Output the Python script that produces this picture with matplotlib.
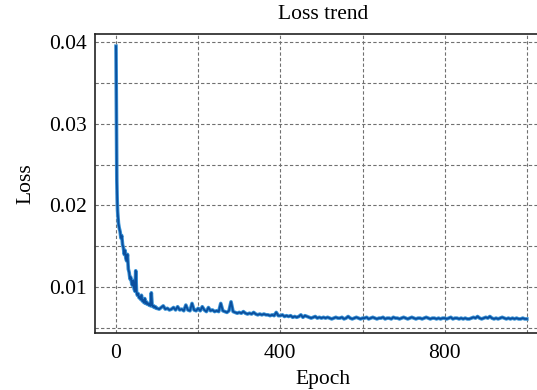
import numpy as np
import matplotlib
matplotlib.use("Agg")
import matplotlib.pyplot as plt
from matplotlib.ticker import MultipleLocator, FuncFormatter

epochs_early = [0, 1, 2, 3, 4, 5, 6, 8, 10, 12, 14, 16, 18, 20, 22, 24, 26, 28,
                30, 32, 34, 36, 38, 40, 42, 44, 46, 48, 50, 52, 54, 56, 58, 60,
                62, 64, 66, 68, 70, 72, 74, 76, 78, 80, 82, 84, 86, 88, 90, 92,
                94, 96, 98]
loss_early = [0.0395, 0.0300, 0.0230, 0.0205, 0.0192, 0.0185, 0.0178, 0.0172,
              0.0168, 0.0160, 0.0163, 0.0152, 0.0148, 0.0140, 0.0145, 0.0135,
              0.0132, 0.0140, 0.0122, 0.0118, 0.0110, 0.0112, 0.0105, 0.0102,
              0.0108, 0.0098, 0.0095, 0.0120, 0.0094, 0.0090, 0.0092, 0.0087,
              0.0088, 0.0085, 0.0090, 0.0083, 0.0084, 0.0081, 0.0086, 0.0080,
              0.0082, 0.0079, 0.0080, 0.0078, 0.0080, 0.0077, 0.0093, 0.0078,
              0.0076, 0.0077, 0.0075, 0.0076, 0.0074]

# epochs 100..1000, every 5 epochs
epochs_late = list(range(100, 1001, 5))
loss_late = [
    0.0074, 0.0073, 0.0075, 0.0077, 0.0073, 0.0074, 0.0072, 0.0073, 0.0075, 0.0072,
    0.0076, 0.0072, 0.0073, 0.0071, 0.0078, 0.0072, 0.0071, 0.0080, 0.0072, 0.0071,
    0.0074, 0.0071, 0.0076, 0.0072, 0.0070, 0.0075, 0.0071, 0.0072, 0.0070, 0.0071,
    0.0070, 0.0080, 0.0071, 0.0070, 0.0069, 0.0071, 0.0082, 0.0070, 0.0069, 0.0068,
    0.0069, 0.0068, 0.0070, 0.0068, 0.0067, 0.0068, 0.0067, 0.0069, 0.0067, 0.0066,
    0.0067, 0.0066, 0.0067, 0.0066, 0.0066, 0.0065, 0.0066, 0.0065, 0.0069, 0.0065,
    0.0065, 0.0066, 0.0064, 0.0065, 0.0064, 0.0065, 0.0063, 0.0064, 0.0063, 0.0064,
    0.0066, 0.0063, 0.0065, 0.0064, 0.0063, 0.0062, 0.0063, 0.0064, 0.0062, 0.0063,
    0.0062, 0.0063, 0.0062, 0.0063, 0.0062, 0.0061, 0.0062, 0.0063, 0.0062, 0.0062,
    0.0063, 0.0061, 0.0062, 0.0064, 0.0062, 0.0061, 0.0062, 0.0063, 0.0062, 0.0061,
    0.0062, 0.0062, 0.0063, 0.0061, 0.0062, 0.0063, 0.0062, 0.0061, 0.0062, 0.0062,
    0.0063, 0.0061, 0.0062, 0.0062, 0.0061, 0.0063, 0.0062, 0.0062, 0.0061, 0.0062,
    0.0063, 0.0062, 0.0061, 0.0062, 0.0063, 0.0062, 0.0061, 0.0062, 0.0062, 0.0061,
    0.0062, 0.0063, 0.0062, 0.0061, 0.0062, 0.0062, 0.0061, 0.0062, 0.0061, 0.0062,
    0.0062, 0.0061, 0.0062, 0.0063, 0.0061, 0.0062, 0.0062, 0.0061, 0.0062, 0.0061,
    0.0062, 0.0061, 0.0061, 0.0062, 0.0063, 0.0062, 0.0064, 0.0062, 0.0061, 0.0062,
    0.0063, 0.0062, 0.0064, 0.0062, 0.0061, 0.0062, 0.0061, 0.0062, 0.0063, 0.0062,
    0.0061, 0.0062, 0.0061, 0.0062, 0.0061, 0.0062, 0.0061, 0.0061, 0.0062, 0.0061,
    0.0061,
]

epochs = np.array(epochs_early + epochs_late)
loss = np.array(loss_early + loss_late)

plt.rcParams['font.family'] = ['Liberation Serif', 'DejaVu Serif']

fig = plt.figure(figsize=(5.37, 3.90), dpi=100)
# the box runs off the right edge of the picture
ax = fig.add_axes([0.177, 0.146, 0.85, 0.767])

ax.plot(epochs, loss, color='#3a93d6', linewidth=2.6, solid_joinstyle='round')
ax.plot(epochs, loss, color='#0a4f9e', linewidth=1.3, solid_joinstyle='round')

ax.set_xlim(-51, 1060)
ax.set_ylim(0.00437, 0.041)
ax.xaxis.set_major_locator(MultipleLocator(400))
ax.xaxis.set_minor_locator(MultipleLocator(200))
ax.yaxis.set_major_locator(MultipleLocator(0.01))
ax.yaxis.set_minor_locator(MultipleLocator(0.005))
ax.yaxis.set_major_formatter(FuncFormatter(lambda v, p: f"{v:.2f}"))

ax.grid(which='both', color='#707070', linestyle=(0, (3, 2)), linewidth=0.8)
ax.tick_params(which='both', length=0, labelsize=15.5)
ax.tick_params(axis='y', pad=6)
ax.tick_params(axis='x', pad=8)

for s in ax.spines.values():
    s.set_linewidth(1.2)
    s.set_color('#222222')
ax.spines['right'].set_visible(False)

ax.set_title("Loss trend", fontsize=15.5, pad=11)
ax.set_xlabel("Epoch", fontsize=15.5, labelpad=5)
ax.set_ylabel("Loss", fontsize=15.5, labelpad=10)

fig.savefig("out.png", dpi=100)
